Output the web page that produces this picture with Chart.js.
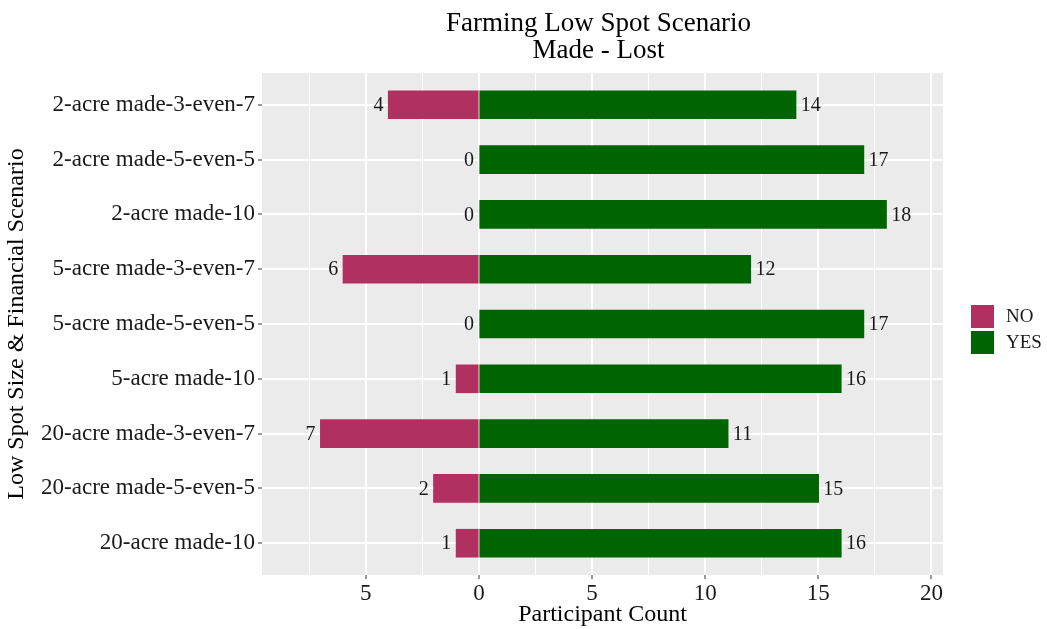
<!DOCTYPE html>
<html>
<head>
<meta charset="utf-8">
<script src="https://cdn.jsdelivr.net/npm/chart.js@4.4.1/dist/chart.umd.min.js"></script>
<style>
html,body{margin:0;padding:0;background:#fff;}
#wrap{width:1047px;height:629px;position:relative;}
</style>
</head>
<body>
<div id="wrap"><canvas id="c" width="1047" height="629"></canvas></div>
<script>
const categories = [
  "2-acre made-3-even-7",
  "2-acre made-5-even-5",
  "2-acre made-10",
  "5-acre made-3-even-7",
  "5-acre made-5-even-5",
  "5-acre made-10",
  "20-acre made-3-even-7",
  "20-acre made-5-even-5",
  "20-acre made-10"
];
const noCounts  = [4, 0, 0, 6, 0, 1, 7, 2, 1];
const yesCounts = [14, 17, 18, 12, 17, 16, 11, 15, 16];
const xTicks = [-7.5, -5, -2.5, 0, 2.5, 5, 7.5, 10, 12.5, 15, 17.5, 20];
const titleLines = ["Farming Low Spot Scenario", "Made - Lost"];
const seriesNames = ["NO", "YES"];
const seriesColors = ["#B03060", "#006400"];

const SERIF = "'Liberation Serif', 'Times New Roman', serif";

const panelPlugin = {
  id: 'panel',
  beforeDraw(chart) {
    const {ctx, chartArea: a} = chart;
    ctx.save();
    ctx.fillStyle = '#EBEBEB';
    ctx.fillRect(a.left, a.top, a.right - a.left, a.bottom - a.top);
    ctx.restore();
  },
  afterDatasetsDraw(chart) {
    const ctx = chart.ctx;
    ctx.save();
    ctx.font = "20px " + SERIF;
    ctx.fillStyle = '#1A1A1A';
    ctx.textBaseline = 'middle';
    chart.data.datasets.forEach((ds, di) => {
      const meta = chart.getDatasetMeta(di);
      meta.data.forEach((el, i) => {
        const v = di === 0 ? noCounts[i] : yesCounts[i];
        if (di === 0) {
          ctx.textAlign = 'right';
          ctx.fillText(String(v), Math.min(el.x, el.base) - 5, el.y + 1);
        } else {
          ctx.textAlign = 'left';
          ctx.fillText(String(v), Math.max(el.x, el.base) + 5, el.y + 1);
        }
      });
    });
    ctx.restore();
  },
  afterDraw(chart) {
    const {ctx, chartArea: a} = chart;
    ctx.save();
    ctx.fillStyle = '#000';
    ctx.font = "27px " + SERIF;
    ctx.textAlign = 'center';
    ctx.textBaseline = 'alphabetic';
    const cx = (a.left + a.right) / 2 - 4;
    ctx.fillText(titleLines[0], cx, 31);
    ctx.fillText(titleLines[1], cx, 58);
    ctx.font = "19px " + SERIF;
    ctx.textAlign = 'left';
    ctx.textBaseline = 'middle';
    seriesNames.forEach((n, i) => {
      const y = 305 + i * 26;
      ctx.fillStyle = seriesColors[i];
      ctx.fillRect(971, y, 23, 23);
      ctx.fillStyle = '#1A1A1A';
      ctx.fillText(n, 1006, y + 12);
    });
    ctx.restore();
  }
};

const inflate = (c) => (c.raw && c.raw.x !== 0) ? 0.6 : 0;

const chart = new Chart(document.getElementById('c'), {
  type: 'bar',
  data: {
    datasets: [
      {
        label: seriesNames[0],
        data: noCounts.map((v, i) => ({x: -v, y: i})),
        backgroundColor: seriesColors[0],
        barPercentage: 0.5,
        categoryPercentage: 1,
        inflateAmount: inflate
      },
      {
        label: seriesNames[1],
        data: yesCounts.map((v, i) => ({x: v, y: i})),
        backgroundColor: seriesColors[1],
        barPercentage: 0.5,
        categoryPercentage: 1,
        inflateAmount: inflate
      }
    ]
  },
  options: {
    indexAxis: 'y',
    responsive: false,
    animation: false,
    events: [],
    layout: {padding: {top: 73, right: 104, left: 0, bottom: 0}},
    plugins: {
      legend: {display: false},
      title: {display: false},
      tooltip: {enabled: false}
    },
    scales: {
      x: {
        type: 'linear',
        stacked: true,
        min: -9.5912,
        max: 20.5088,
        afterBuildTicks: (s) => { s.ticks = xTicks.map(v => ({value: v})); },
        afterFit: (s) => { s.height = 54; },
        border: {display: false},
        grid: {
          color: '#FFFFFF',
          lineWidth: (c) => (c.tick && c.tick.value % 5 === 0) ? 2 : 1,
          tickColor: (c) => (c.tick && c.tick.value % 5 === 0) ? '#333333' : 'rgba(0,0,0,0)',
          tickWidth: 1,
          tickLength: 4
        },
        ticks: {
          autoSkip: false,
          maxRotation: 0,
          padding: 1,
          color: '#1A1A1A',
          font: {family: SERIF, size: 23},
          callback: (v) => (v % 5 === 0) ? String(Math.abs(v)) : ''
        },
        title: {
          display: true,
          text: 'Participant Count',
          color: '#000',
          font: {family: SERIF, size: 24},
          padding: {top: 0, bottom: 0}
        }
      },
      y: {
        type: 'linear',
        stacked: true,
        reverse: true,
        offset: false,
        min: -0.58,
        max: 8.58,
        afterBuildTicks: (s) => { s.ticks = categories.map((c, i) => ({value: i})); },
        afterFit: (s) => { s.width = 262; },
        border: {display: false},
        grid: {
          offset: false,
          color: '#FFFFFF',
          lineWidth: 2,
          tickColor: '#333333',
          tickWidth: 1,
          tickLength: 4
        },
        ticks: {
          autoSkip: false,
          padding: 3,
          color: '#1A1A1A',
          font: {family: SERIF, size: 23},
          callback: (v) => categories[v]
        },
        title: {
          display: true,
          text: 'Low Spot Size & Financial Scenario',
          color: '#000',
          font: {family: SERIF, size: 24},
          padding: {top: 2, bottom: 0}
        }
      }
    }
  },
  plugins: [panelPlugin]
});
</script>
</body>
</html>
